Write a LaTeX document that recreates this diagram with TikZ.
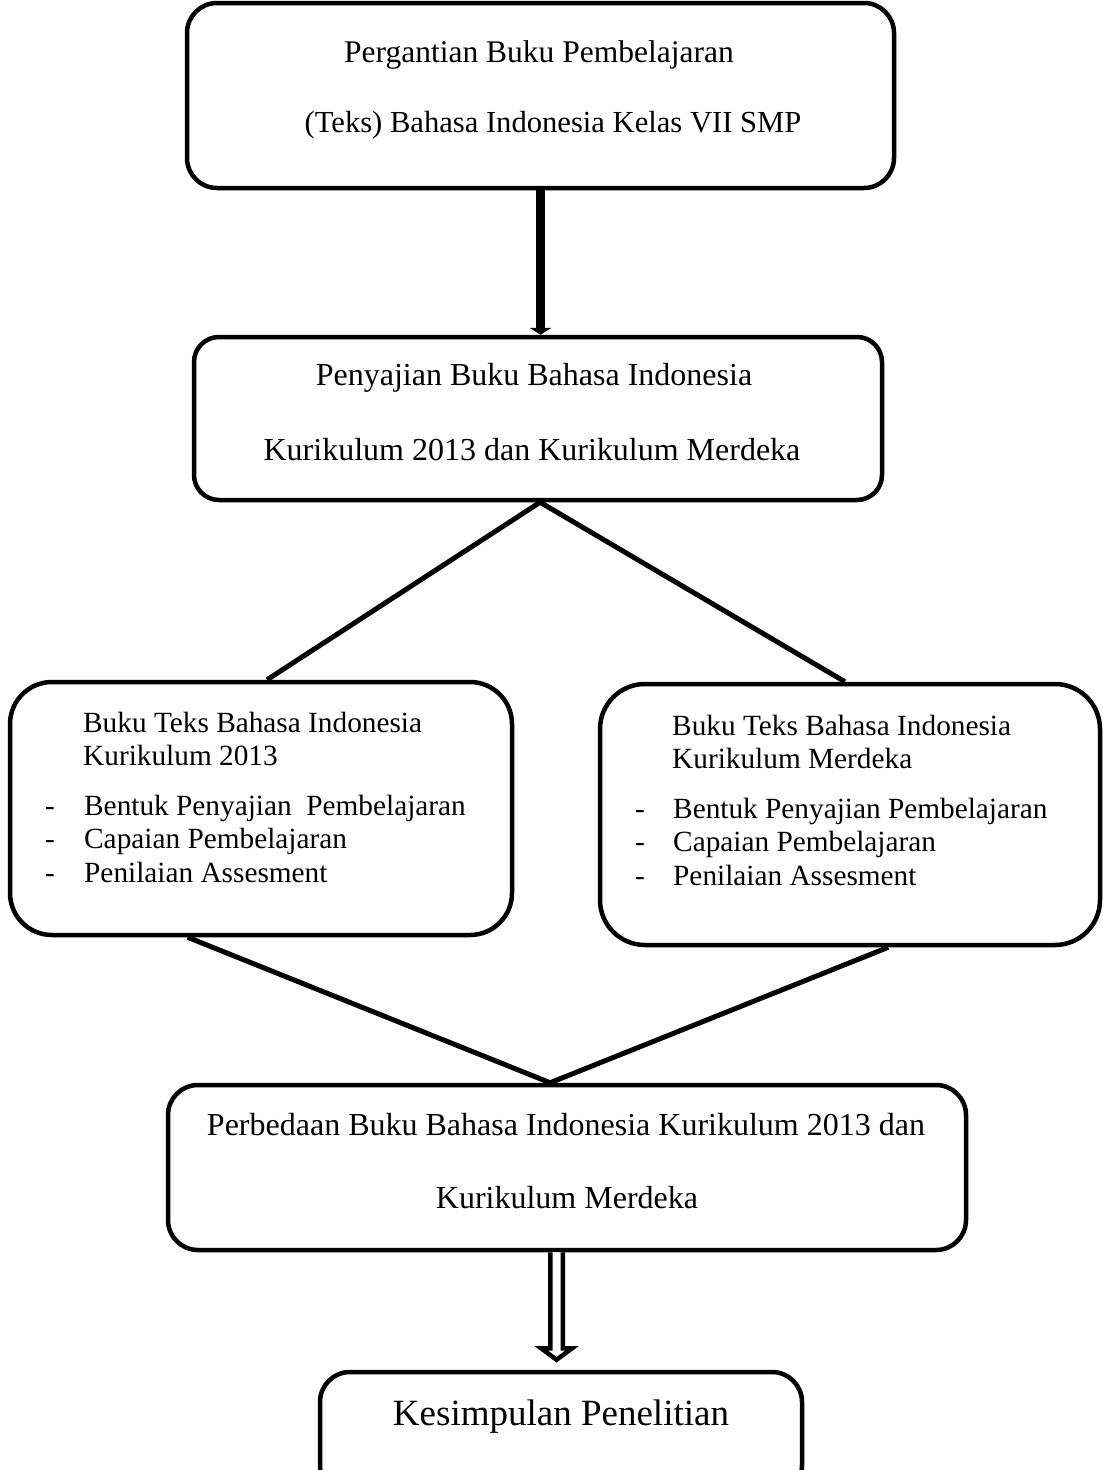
\documentclass[tikz,border=0pt]{standalone}
\usepackage{fontspec}
\setmainfont{Liberation Serif}
\usetikzlibrary{arrows.meta,calc}
\begin{document}
\begin{tikzpicture}[x=1pt,y=-1pt,
  box/.style={draw,line width=4.5pt,inner sep=0pt,rounded corners=#1},
  conn/.style={line width=5pt},
  txt/.style={inner sep=0pt,anchor=base},
  ltxt/.style={inner sep=0pt,anchor=base west},
  fa/.style={font=\fontsize{31.5}{37}\selectfont},
  fa2/.style={font=\fontsize{30.6}{37}\selectfont},
  fb/.style={font=\fontsize{32}{38}\selectfont},
  fs/.style={font=\fontsize{29.3}{35}\selectfont},
  fk/.style={font=\fontsize{37}{44}\selectfont}
]
\useasboundingbox (0,0) rectangle (1103,1470);
\clip (0,0) rectangle (1103,1470);
\fill[white] (0,0) rectangle (1103,1470);

% boxes
\node[box=30pt,minimum width=707pt,minimum height=185pt] (b1) at (540.5,95.5) {};
\node[box=25pt,minimum width=688pt,minimum height=163pt] (b2) at (538,418.5) {};
\node[box=42pt,minimum width=502pt,minimum height=253pt] (b3) at (261,808.5) {};
\node[box=45pt,minimum width=500pt,minimum height=261pt] (b4) at (850,814.5) {};
\node[box=30pt,minimum width=798pt,minimum height=165pt] (b5) at (567,1167.5) {};
\node[box=30pt,minimum width=482pt,minimum height=123pt] (b6) at (561,1433.5) {};

% texts
\node[txt,fa] (t1a) at (539,62) {Pergantian Buku Pembelajaran};
\node[txt,fa2] (t1b) at (553,132) {(Teks) Bahasa Indonesia Kelas VII SMP};
\node[txt,fb] (t2a) at (534,385) {Penyajian Buku Bahasa Indonesia};
\node[txt,fb] (t2b) at (532,460) {Kurikulum 2013 dan Kurikulum Merdeka};

\node[ltxt,fs] (t3a) at (83,732) {Buku Teks Bahasa Indonesia};
\node[ltxt,fs] (t3b) at (83,765) {Kurikulum 2013};
\node[txt,fs] (d3a) at (50,815) {-};
\node[txt,fs] (d3b) at (50,848) {-};
\node[txt,fs] (d3c) at (50,882) {-};
\node[ltxt,fs] (t3c) at (84,815) {Bentuk Penyajian\ \ Pembelajaran};
\node[ltxt,fs] (t3d) at (84,848) {Capaian Pembelajaran};
\node[ltxt,fs] (t3e) at (84,882) {Penilaian Assesment};

\node[ltxt,fs] (t4a) at (672,735) {Buku Teks Bahasa Indonesia};
\node[ltxt,fs] (t4b) at (672,768) {Kurikulum Merdeka};
\node[txt,fs] (d4a) at (640,818) {-};
\node[txt,fs] (d4b) at (640,851) {-};
\node[txt,fs] (d4c) at (640,885) {-};
\node[ltxt,fs] (t4c) at (673,818) {Bentuk Penyajian Pembelajaran};
\node[ltxt,fs] (t4d) at (673,851) {Capaian Pembelajaran};
\node[ltxt,fs] (t4e) at (673,885) {Penilaian Assesment};

\node[txt,fb] (t5a) at (566,1135) {Perbedaan Buku Bahasa Indonesia Kurikulum 2013 dan};
\node[txt,fb] (t5b) at (567,1208) {Kurikulum Merdeka};
\node[txt,fk] (t6) at (561,1425) {Kesimpulan Penelitian};

% connectors
\draw[line width=9.5pt,-{Triangle[width=22pt,length=7pt]}]
  (b1.south) -- (b1.south |- b2.north);

\coordinate (apx1) at ($(b2.south west)!0.503!(b2.south east)$);
\coordinate (l3) at ($(b3.north west)!0.512!(b3.north east)$);
\coordinate (r4) at ($(b4.north west)!0.49!(b4.north east)$);
\draw[conn] (l3) -- (apx1) -- (r4);

\coordinate (apx2) at ($(b5.north west)!0.479!(b5.north east)$);
\coordinate (l3s) at ($(b3.south west)!0.355!(b3.south east)$);
\coordinate (r4s) at ($(b4.south west)!0.576!(b4.south east)$);
\draw[conn] (l3s) -- (apx2) -- (r4s);

% hollow double arrow
\coordinate (d0) at ($(b5.south west)!0.487!(b5.south east)$);
\coordinate (d6) at (d0 |- b6.north);
\filldraw[fill=white,line width=4.5pt,miter limit=10]
  ($(d0)+(-6.25,0)$) -- ($(d0)+(-6.25,96)$) -- ($(d0)+(-15.5,96)$)
  -- ($(d6)+(0,-10)$) -- ($(d0)+(15.5,96)$) -- ($(d0)+(6.25,96)$) -- ($(d0)+(6.25,0)$);
\end{tikzpicture}
\end{document}
